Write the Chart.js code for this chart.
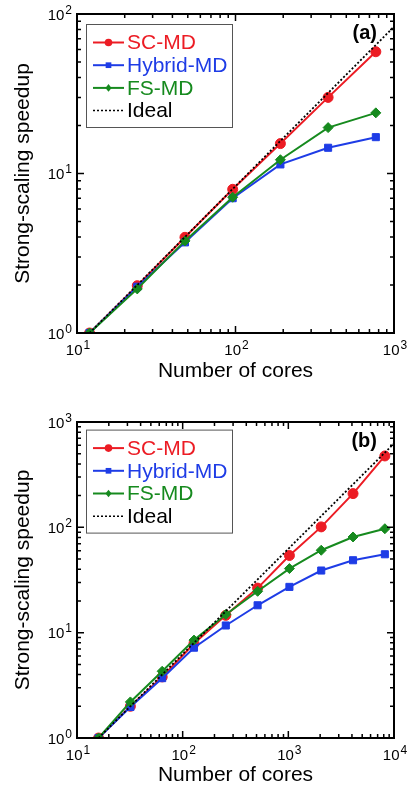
<!DOCTYPE html>
<html>
<head>
<meta charset="utf-8">
<script src="https://cdn.jsdelivr.net/npm/chart.js@4.4.1/dist/chart.umd.min.js"></script>
<style>
  html, body { margin: 0; padding: 0; background: #fff; }
  canvas { display: block; }
</style>
</head>
<body>
<canvas id="chartA" width="412" height="386"></canvas>
<canvas id="chartB" width="412" height="403"></canvas>
<script>
// panel (a)
const coresA = [12, 24, 48, 96, 192, 384, 768];
const scA = [1, 1.98, 3.98, 7.96, 15.4, 30.0, 58];
const hybridA = [1, 1.95, 3.7, 7.0, 11.4, 14.5, 16.9];
const fsA = [1, 1.89, 3.78, 7.1, 12.2, 19.4, 24.0];
const idealCoresA = [12, 1000];
const idealA = [1, 83.3];
const xTicksA = [10, 100, 1000];
const yTicksA = [1, 10, 100];

// panel (b)
const coresB = [16, 32, 64, 128, 256, 512, 1024, 2048, 4096, 8192];
const scB = [1, 2.0, 3.8, 7.9, 14.6, 26.5, 54, 101, 209, 476];
const hybridB = [1, 1.97, 3.7, 7.2, 11.7, 18.2, 27.2, 38.9, 48.7, 55.5];
const fsB = [1, 2.2, 4.3, 8.5, 14.9, 24.7, 40.6, 60.6, 81, 97];
const idealCoresB = [16, 10000];
const idealB = [1, 625];
const xTicksB = [10, 100, 1000, 10000];
const yTicksB = [1, 10, 100, 1000];

const RED = '#ec1c24';
const BLUE = '#1e3ce6';
const GREEN = '#168a1e';
const FONT = '"Liberation Sans", Arial, sans-serif';

Chart.defaults.font.family = FONT;
Chart.defaults.color = '#000';

function pairs(xs, ys) {
    return xs.map((x, i) => ({ x: x, y: ys[i] }));
}

function makeDatasets(cores, sc, hyb, fs, idealX, idealY) {
    return [
        { label: 'SC-MD', data: pairs(cores, sc), borderColor: RED, backgroundColor: RED,
          pointStyle: 'circle', pointRadius: 5, pointBorderWidth: 1, borderWidth: 2, order: 3 },
        { label: 'Hybrid-MD', data: pairs(cores, hyb), borderColor: BLUE, backgroundColor: BLUE,
          pointStyle: 'rect', pointRadius: 5, pointBorderWidth: 1, borderWidth: 2, order: 2 },
        { label: 'FS-MD', data: pairs(cores, fs), borderColor: GREEN, backgroundColor: GREEN,
          pointStyle: 'rectRot', pointRadius: 5, pointBorderWidth: 1, borderWidth: 2, order: 1 },
        { label: 'Ideal', data: pairs(idealX, idealY), borderColor: '#000', backgroundColor: '#000',
          borderDash: [2, 2], borderWidth: 1.8, pointRadius: 0, order: 0 }
    ];
}

function logAxis(min, max, majors, title, titlePad, fit) {
    return {
        type: 'logarithmic',
        min: min,
        max: max,
        grid: { display: false, drawTicks: false },
        border: { display: false },
        afterBuildTicks: (s) => { s.ticks = majors.map(v => ({ value: v, major: true })); },
        afterFit: fit,
        ticks: { display: false, autoSkip: false },
        title: { display: true, text: title, color: '#000', font: { size: 21 }, padding: titlePad }
    };
}

// inward ticks on all four sides, frame, "10^n" labels and panel letter
const framePlugin = {
    id: 'frame',
    afterDatasetsDraw(chart, args, opts) {
        const { ctx, chartArea: a, scales } = chart;
        ctx.save();
        ctx.strokeStyle = '#000';
        ctx.lineWidth = 1.5;
        ctx.beginPath();
        [scales.x, scales.y].forEach(scale => {
            const lo = Math.round(Math.log10(scale.min));
            const hi = Math.round(Math.log10(scale.max));
            for (let e = lo; e < hi; e++) {
                for (let m = 1; m < 10; m++) {
                    const p = scale.getPixelForValue(m * Math.pow(10, e));
                    const len = m === 1 ? 7 : 4;
                    if (scale.isHorizontal()) {
                        ctx.moveTo(p, a.bottom); ctx.lineTo(p, a.bottom - len);
                        ctx.moveTo(p, a.top); ctx.lineTo(p, a.top + len);
                    } else {
                        ctx.moveTo(a.left, p); ctx.lineTo(a.left + len, p);
                        ctx.moveTo(a.right, p); ctx.lineTo(a.right - len, p);
                    }
                }
            }
        });
        ctx.stroke();
        ctx.lineWidth = 2;
        ctx.strokeRect(a.left, a.top, a.right - a.left, a.bottom - a.top);

        // tick labels with raised exponent
        ctx.fillStyle = '#000';
        ctx.textBaseline = 'alphabetic';
        ctx.textAlign = 'left';
        const baseFont = '15px ' + FONT;
        const expFont = '12px ' + FONT;
        ctx.font = baseFont;
        const wBase = ctx.measureText('10').width;
        [scales.x, scales.y].forEach(scale => {
            scale.ticks.forEach(t => {
                const p = scale.getPixelForValue(t.value);
                const ex = String(Math.round(Math.log10(t.value)));
                ctx.font = expFont;
                const wExp = ctx.measureText(ex).width + 1;
                let x0, yb;
                if (scale.isHorizontal()) {
                    x0 = p - (wBase + wExp) / 2 + 1;
                    yb = a.bottom + 22;
                } else {
                    x0 = a.left - 5 - wExp - wBase;
                    yb = p + 5.5;
                }
                ctx.font = baseFont;
                ctx.fillText('10', x0, yb);
                ctx.font = expFont;
                ctx.fillText(ex, x0 + wBase + 1, yb - 6);
            });
        });

        ctx.font = 'bold 20px ' + FONT;
        ctx.textAlign = 'right';
        ctx.textBaseline = 'middle';
        ctx.fillText(opts.tag, a.right - 17, a.top + 19);
        ctx.restore();
    }
};

function drawMarker(ctx, style, x, y, r) {
    ctx.beginPath();
    if (style === 'circle') {
        ctx.arc(x, y, r, 0, Math.PI * 2);
    } else if (style === 'rect') {
        ctx.rect(x - r * 0.75, y - r * 0.75, r * 1.5, r * 1.5);
    } else if (style === 'rectRot') {
        ctx.moveTo(x, y - r); ctx.lineTo(x + r * 0.8, y);
        ctx.lineTo(x, y + r); ctx.lineTo(x - r * 0.8, y);
        ctx.closePath();
    }
    ctx.fill();
}

// boxed legend inside the plot, text coloured like its series
const boxLegend = {
    id: 'boxLegend',
    afterDraw(chart, args, opts) {
        const { ctx, chartArea: a } = chart;
        const left = a.left + 9;
        const top = a.top + opts.top;
        ctx.save();
        ctx.strokeStyle = '#555';
        ctx.lineWidth = 1;
        ctx.strokeRect(left + 0.5, top + 0.5, 146, 103);
        ctx.font = '21px ' + FONT;
        ctx.textBaseline = 'middle';
        ctx.textAlign = 'left';
        chart.data.datasets.forEach((ds, i) => {
            const y = top + 18.5 + i * 22.7;
            ctx.strokeStyle = ds.borderColor;
            ctx.fillStyle = ds.borderColor;
            ctx.lineWidth = ds.borderDash ? 1.5 : 2;
            ctx.setLineDash(ds.borderDash || []);
            ctx.beginPath();
            ctx.moveTo(left + 7, y);
            ctx.lineTo(left + 38, y);
            ctx.stroke();
            ctx.setLineDash([]);
            if (ds.pointRadius) drawMarker(ctx, ds.pointStyle, left + 22.5, y, 3.8);
            ctx.fillText(ds.label, left + 41, y + 1);
        });
        ctx.restore();
    }
};

function makeChart(id, datasets, xMin, xMax, xTicks, yMin, yMax, yTicks, tag, padTop, xHeight, xTitlePad, legendTop) {
    return new Chart(document.getElementById(id), {
        type: 'line',
        data: { datasets: datasets },
        options: {
            responsive: false,
            animation: false,
            devicePixelRatio: 1,
            layout: { padding: { top: padTop, right: 18, bottom: 0, left: 0 } },
            scales: {
                x: logAxis(xMin, xMax, xTicks, 'Number of cores',
                           { top: 0, bottom: xTitlePad }, (s) => { s.height = xHeight; }),
                y: logAxis(yMin, yMax, yTicks, 'Strong-scaling speedup',
                           { top: 11, bottom: 0 }, (s) => { s.width = 77; })
            },
            plugins: {
                legend: { display: false },
                tooltip: { enabled: false },
                frame: { tag: tag },
                boxLegend: { top: legendTop }
            }
        },
        plugins: [framePlugin, boxLegend]
    });
}

makeChart('chartA', makeDatasets(coresA, scA, hybridA, fsA, idealCoresA, idealA),
          10, 1000, xTicksA, 1, 100, yTicksA, '(a)', 14, 53, 2, 10);
makeChart('chartB', makeDatasets(coresB, scB, hybridB, fsB, idealCoresB, idealB),
          10, 10000, xTicksB, 1, 1000, yTicksB, '(b)', 36, 51, 1.5, 7.6);
</script>
</body>
</html>
